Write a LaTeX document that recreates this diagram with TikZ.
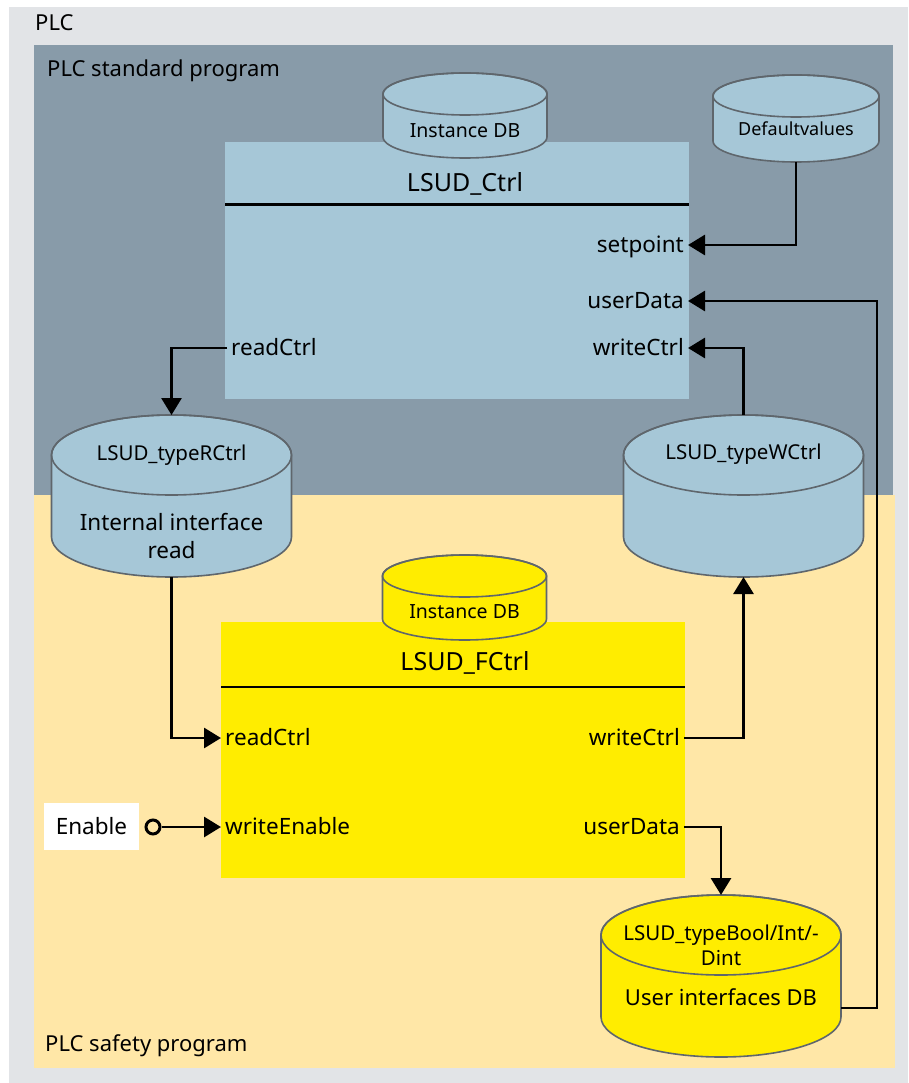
\documentclass[tikz,border=0pt]{standalone}
\usepackage{fontspec}
\setmainfont{Noto Sans}
\usetikzlibrary{arrows.meta}

\definecolor{plcgrey}{HTML}{E2E4E7}
\definecolor{stdblue}{HTML}{889BA9}
\definecolor{safeyellow}{HTML}{FFE7A7}
\definecolor{fbblue}{HTML}{A6C7D7}
\definecolor{fbyellow}{HTML}{FFED00}
\definecolor{dbline}{HTML}{5F666C}

\tikzset{
  region/.style={font=\fontsize{22}{26}\selectfont, inner sep=4pt},
  fb/.style={rectangle, inner sep=0pt, outer sep=0pt, minimum width=464pt, minimum height=256pt},
  fbtitle/.style={font=\fontsize{25}{30}\selectfont},
  port/.style={font=\fontsize{22.5}{27}\selectfont, inner sep=4pt, text height=17pt, text depth=3pt},
  dbnode/.style={rectangle, inner sep=0pt, outer sep=0pt},
  dbshape/.style={draw=dbline, line width=1.6pt},
  dbtext/.style={font=\fontsize{19.5}{24}\selectfont, align=center, inner sep=0pt},
  bodytext/.style={font=\fontsize{22.5}{28}\selectfont, align=center, inner sep=0pt},
  conn/.style={line width=2.9pt, -{Triangle[length=17pt,width=20pt]}},
  sep/.style={line width=2.9pt},
  enablebox/.style={fill=white, font=\fontsize{22.5}{27}\selectfont, minimum width=95pt, minimum height=47pt, inner sep=0pt},
  pin/.style={circle, draw, line width=3pt, minimum size=14pt, inner sep=0pt},
}

\begin{document}
\begin{tikzpicture}[x=1pt, y=-1pt]
  \useasboundingbox (0,0) rectangle (908,1083);
  \fill[white] (0,0) rectangle (908,1083);
  \fill[plcgrey] (9,7) rectangle (908,1083);
  \fill[stdblue] (34,45) rectangle (893,495);
  \fill[safeyellow] (34,495) rectangle (895,1068);
  \node[region, anchor=west] (plc_lbl) at (31,23) {PLC};
  \node[region, anchor=west] (std_lbl) at (43,71) {PLC standard program};
  \node[region, anchor=west] (safe_lbl) at (41,1046) {PLC safety program};

  % function blocks
  \node[fb, fill=fbblue] (ctrl) at (457,270.5) {};
  \node[fb, fill=fbyellow] (fctrl) at (453,750) {};
  \draw[sep] ([yshift=-62pt]ctrl.north west) -- ([yshift=-62pt]ctrl.north east);
  \draw[sep] ([yshift=-65pt]fctrl.north west) -- ([yshift=-65pt]fctrl.north east);
  \node[fbtitle] (ctrl_name) at (465,184) {LSUD\_Ctrl};
  \node[fbtitle] (fctrl_name) at (465,663) {LSUD\_FCtrl};

  \node[port, anchor=east] (ctrl_setpoint) at (688,245) {setpoint};
  \node[port, anchor=east] (ctrl_userdata) at (688,301) {userData};
  \node[port, anchor=east] (ctrl_write) at (688,348) {writeCtrl};
  \node[port, anchor=west] (ctrl_read) at (227,348) {readCtrl};
  \node[port, anchor=west] (fctrl_read) at (221,738) {readCtrl};
  \node[port, anchor=west] (fctrl_enable) at (221,827) {writeEnable};
  \node[port, anchor=east] (fctrl_write) at (684,738) {writeCtrl};
  \node[port, anchor=east] (fctrl_userdata) at (684,827) {userData};

  % data blocks
  \node[dbnode, minimum width=164pt, minimum height=85pt] (ctrl_idb) at (465,115.5) {};
  \node[dbnode, minimum width=166pt, minimum height=87pt] (defaults) at (796,118.5) {};
  \node[dbnode, minimum width=240pt, minimum height=162pt] (rctrl) at (171.5,496) {};
  \node[dbnode, minimum width=240pt, minimum height=162pt] (wctrl) at (743.5,496) {};
  \node[dbnode, minimum width=164pt, minimum height=85pt] (fctrl_idb) at (464.5,597.5) {};
  \node[dbnode, minimum width=240pt, minimum height=162pt] (userdb) at (721,976) {};
  \foreach \db/\rx/\ry/\col in {ctrl_idb/82/21/fbblue, defaults/83/21/fbblue,
      rctrl/120/40/fbblue, wctrl/120/40/fbblue, fctrl_idb/82/21/fbyellow, userdb/120/40/fbyellow} {
    \filldraw[dbshape, fill=\col] ([yshift=-\ry pt]\db.north west) -- ([yshift=\ry pt]\db.south west)
      arc[start angle=180, end angle=360, x radius=\rx pt, y radius=\ry pt]
      -- ([yshift=-\ry pt]\db.north east)
      arc[start angle=0, end angle=180, x radius=\rx pt, y radius=\ry pt] -- cycle;
    \draw[dbshape] ([yshift=-\ry pt]\db.north) ellipse [x radius=\rx pt, y radius=\ry pt];
  }

  \node[dbtext] (ctrl_idb_txt) at ([yshift=-58pt]ctrl_idb.north) {Instance DB};
  \node[dbtext, font=\fontsize{18}{22}\selectfont] (defaults_txt) at ([yshift=-54pt]defaults.north) {Defaultvalues};
  \node[dbtext, font=\fontsize{20.5}{25}\selectfont] (rctrl_txt) at ([yshift=-40pt]rctrl.north) {LSUD\_typeRCtrl};
  \node[bodytext] (rctrl_body) at ([yshift=-121pt]rctrl.north) {Internal interface\\read};
  \node[dbtext, font=\fontsize{20.5}{25}\selectfont] (wctrl_txt) at ([yshift=-39pt]wctrl.north) {LSUD\_typeWCtrl};
  \node[dbtext] (fctrl_idb_txt) at ([yshift=-57pt]fctrl_idb.north) {Instance DB};
  \node[dbtext, font=\fontsize{20.5}{25}\selectfont] (userdb_txt) at ([yshift=-50pt]userdb.north) {LSUD\_typeBool/Int/-\\Dint};
  \node[bodytext, font=\fontsize{22}{28}\selectfont] (userdb_body) at ([yshift=-102pt]userdb.north) {User interfaces DB};

  \node[enablebox] (enable) at (91.5,826.5) {Enable};
  \node[pin] (enable_pin) at (153,827) {};
  \coordinate (userdb_out) at ([yshift=-32pt]userdb.east);

  % connections
  \draw[conn] (defaults.south) |- (ctrl_setpoint.east);
  \draw[conn] (userdb_out) -- ++(36,0) |- (ctrl_userdata.east);
  \draw[conn] (wctrl.north) |- (ctrl_write.east);
  \draw[conn] (ctrl_read.west) -| (rctrl.north);
  \draw[conn] (rctrl.south) |- (fctrl_read.west);
  \draw[conn] (fctrl_write.east) -| (wctrl.south);
  \draw[conn] (fctrl_userdata.east) -| (userdb.north);
  \draw[conn] (enable_pin) -- (fctrl_enable.west);
\end{tikzpicture}
\end{document}
